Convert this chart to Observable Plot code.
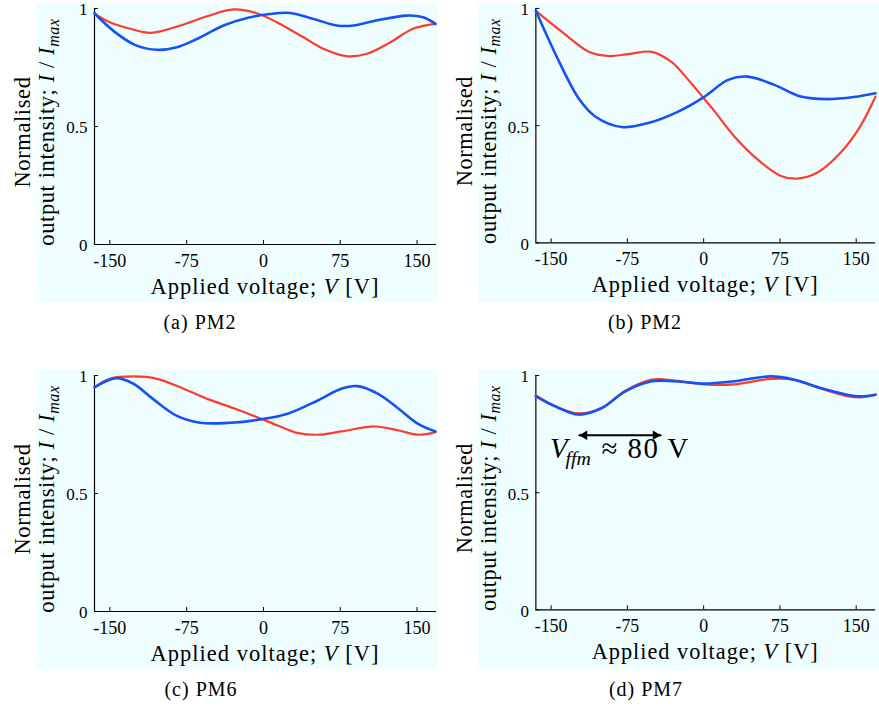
<!DOCTYPE html>
<html>
<head>
<meta charset="utf-8">
<script src="https://cdn.jsdelivr.net/npm/d3@7"></script>
<script src="https://cdn.jsdelivr.net/npm/@observablehq/plot@0.6"></script>
<style>
  body { margin: 0; background: #ffffff; }
  #fig { position: relative; width: 879px; height: 711px; overflow: hidden; font-family: "Liberation Serif", serif; }
  .bg { position: absolute; background: #effefe; }
  .panel { position: absolute; }
  .cap { position: absolute; font-size: 20px; letter-spacing: 1px; transform: translateX(-50%); white-space: nowrap; }
</style>
</head>
<body>
<div id="fig"></div>
<script>
// ---- axis ticks ----
const xTicks = [-150, -75, 0, 75, 150];
const yTicks = [0, 0.5, 1];
const yTickLabels = ["0", "0.5", "1"];
const xDomain = [-165, 169];

// ---- (a) PM2 ----
const aRedV  = [-165, -150, -130, -110, -81, -55, -29, -6.5, 13, 39, 58.5, 81, 101, 124, 146, 168];
const aRedI  = [0.977, 0.942, 0.914, 0.897, 0.928, 0.967, 0.996, 0.98, 0.942, 0.878, 0.829, 0.798, 0.808, 0.857, 0.914, 0.935];
const aBlueV = [-165, -145, -125, -104, -84.5, -65, -39, -16, 6.5, 26, 49, 71.6, 88, 107, 140, 156, 168];
const aBlueI = [0.98, 0.9, 0.845, 0.825, 0.836, 0.871, 0.928, 0.96, 0.977, 0.981, 0.956, 0.928, 0.928, 0.946, 0.97, 0.963, 0.935];

// ---- (b) PM2 ----
const bRedV  = [-165, -139, -113, -93.6, -74, -51, -31.7, -15, -2, 11, 30, 53, 76, 92, 112, 134.6, 154, 169];
const bRedI  = [0.99, 0.899, 0.815, 0.797, 0.805, 0.815, 0.772, 0.695, 0.628, 0.56, 0.455, 0.356, 0.285, 0.274, 0.3, 0.384, 0.497, 0.624];
const bBlueV = [-165, -146, -123, -106.6, -80.6, -54.5, -25, 1, 24, 43, 69.5, 95.5, 121.6, 147.7, 169];
const bBlueI = [0.99, 0.808, 0.617, 0.539, 0.494, 0.511, 0.56, 0.624, 0.695, 0.709, 0.674, 0.624, 0.613, 0.622, 0.638];

// ---- (c) PM6 ----
const cRedV  = [-165, -150, -127, -104, -78, -55, -29, -6, 14, 33, 53, 76, 109, 132, 151, 168];
const cRedI  = [0.95, 0.986, 0.996, 0.986, 0.944, 0.901, 0.861, 0.823, 0.788, 0.757, 0.749, 0.763, 0.784, 0.767, 0.749, 0.76];
const cBlueV = [-165, -144, -127, -108, -85, -62, -32, -3, 23.6, 53, 76, 92, 112, 132, 151, 168];
const cBlueI = [0.95, 0.989, 0.965, 0.901, 0.83, 0.8, 0.8, 0.814, 0.838, 0.894, 0.944, 0.955, 0.922, 0.859, 0.795, 0.763];

// ---- (d) PM7 ----
const dRedV  = [-165, -146, -123, -100, -77, -51, -28, 1, 30, 66, 89, 115, 141, 154, 169];
const dRedI  = [0.915, 0.87, 0.838, 0.862, 0.935, 0.982, 0.978, 0.962, 0.962, 0.985, 0.982, 0.944, 0.912, 0.906, 0.918];
const dBlueV = [-165, -146, -123, -100, -77, -51, -28, 1, 30, 66, 89, 115, 141, 154, 169];
const dBlueI = [0.911, 0.868, 0.833, 0.861, 0.932, 0.975, 0.975, 0.965, 0.975, 0.996, 0.982, 0.946, 0.918, 0.911, 0.918];

// annotation in (d)
const arrowV = [-123, -41.5];
const arrowI = 0.745;
const annotV = -150.7;
const annotI = 0.645;

const captions = ["(a) PM2", "(b) PM2", "(c) PM6", "(d) PM7"];

const RED = "#ff3b2b";
const BLUE = "#1652f2";
const W = 440, H = 305;
const mL = 94, mR = 4, mT = 8, mB = 61;
const plotW = W - mL - mR, plotH = H - mT - mB;

const zip = (v, i) => v.map((x, k) => ({V: x, I: i[k]}));

function makePanel(redV, redI, blueV, blueI, extra) {
  const marks = [
    Plot.axisX({ticks: xTicks, tickSize: 0, tickPadding: 10, tickFormat: d => String(d), label: null, fontSize: 18}),
    Plot.axisY({ticks: yTicks, tickSize: 0, tickPadding: 7, dy: 1.5, tickFormat: (d) => yTickLabels[yTicks.indexOf(d)], label: null, fontSize: 17}),
    Plot.tickX(xTicks, {x: d => d, insetTop: plotH - 4, stroke: "black"}),
    Plot.tickY(yTicks, {y: d => d, insetRight: plotW - 4, stroke: "black"}),
    Plot.ruleY([0], {stroke: "black", strokeWidth: 1.2}),
    Plot.ruleX([xDomain[0]], {stroke: "black", strokeWidth: 1.2}),
    Plot.line(zip(redV, redI), {x: "V", y: "I", stroke: RED, strokeWidth: 2.2, curve: "catmull-rom"}),
    Plot.line(zip(blueV, blueI), {x: "V", y: "I", stroke: BLUE, strokeWidth: 2.6, curve: "catmull-rom"})
  ];
  if (extra) marks.push(...extra);
  const plot = Plot.plot({
    width: W, height: H,
    marginLeft: mL, marginRight: mR, marginTop: mT, marginBottom: mB,
    style: {background: "transparent", fontFamily: "Liberation Serif, serif", fontSize: "18px", color: "black", overflow: "visible"},
    x: {domain: xDomain},
    y: {domain: [0, 1]},
    marks
  });
  const svg = d3.select(plot);
  // x label
  const xl = svg.append("text")
    .attr("x", mL + plotW / 2).attr("y", 294)
    .attr("text-anchor", "middle").attr("font-size", 22.5).attr("letter-spacing", 1).attr("fill", "black");
  xl.append("tspan").text("Applied voltage; ");
  xl.append("tspan").attr("font-style", "italic").text("V");
  xl.append("tspan").text(" [V]");
  // y label
  svg.append("text")
    .attr("transform", "translate(30,132) rotate(-90)")
    .attr("text-anchor", "middle").attr("font-size", 22.5).attr("letter-spacing", 0.6).attr("fill", "black")
    .text("Normalised");
  const yl = svg.append("text")
    .attr("transform", "translate(54,132) rotate(-90)")
    .attr("text-anchor", "middle").attr("font-size", 22.5).attr("letter-spacing", 0.6).attr("fill", "black");
  yl.append("tspan").text("output intensity; ");
  yl.append("tspan").attr("font-style", "italic").text("I");
  yl.append("tspan").text(" / ");
  yl.append("tspan").attr("font-style", "italic").text("I");
  yl.append("tspan").attr("font-style", "italic").attr("font-size", 16).attr("dy", "0.3em").text("max");
  return plot;
}

const fig = document.getElementById("fig");
const offsets = [[0, 0], [442, 0], [0, 367], [442, 367]];
const capPos = [[200, 311], [645, 311], [201, 678], [646, 678]];

const annotMarks = [
  Plot.link([{x1: arrowV[0], x2: arrowV[1], y: arrowI}], {x1: "x1", x2: "x2", y1: "y", y2: "y", stroke: "black", strokeWidth: 2}),
  Plot.dot([{x: arrowV[0], y: arrowI}], {x: "x", y: "y", symbol: "triangle2", r: 4.5, rotate: -90, fill: "black", stroke: "none", dx: 6}),
  Plot.dot([{x: arrowV[1], y: arrowI}], {x: "x", y: "y", symbol: "triangle2", r: 4.5, rotate: 90, fill: "black", stroke: "none", dx: -6})
];

const panels = [
  makePanel(aRedV, aRedI, aBlueV, aBlueI),
  makePanel(bRedV, bRedI, bBlueV, bBlueI),
  makePanel(cRedV, cRedI, cBlueV, cBlueI),
  makePanel(dRedV, dRedI, dBlueV, dBlueI, annotMarks)
];

// annotation text in (d) positioned through the plot's scales
{
  const p = panels[3];
  const sx = p.scale("x"), sy = p.scale("y");
  const t = d3.select(p).append("text")
    .attr("x", sx.apply(annotV)).attr("y", sy.apply(annotI))
    .attr("text-anchor", "start")
    .attr("font-size", 29).attr("fill", "black");
  t.append("tspan").attr("font-style", "italic").text("V");
  t.append("tspan").attr("font-style", "italic").attr("font-size", 20).attr("dy", "0.32em").attr("dx", -2).text("ffm");
  t.append("tspan").attr("dy", "-0.22em").attr("dx", 2).attr("letter-spacing", 1.5).text(" \u2248 80 V");
}

panels.forEach((p, k) => {
  const [ox, oy] = offsets[k];
  const bg = document.createElement("div");
  bg.className = "bg";
  bg.style.left = (ox + 36) + "px";
  bg.style.top = (oy + 3) + "px";
  bg.style.width = (Math.min(401, 879 - ox - 36)) + "px";
  bg.style.height = "299px";
  fig.appendChild(bg);
  const wrap = document.createElement("div");
  wrap.className = "panel";
  wrap.style.left = ox + "px";
  wrap.style.top = oy + "px";
  wrap.appendChild(p);
  fig.appendChild(wrap);
  const cap = document.createElement("div");
  cap.className = "cap";
  cap.style.left = capPos[k][0] + "px";
  cap.style.top = capPos[k][1] + "px";
  cap.textContent = captions[k];
  fig.appendChild(cap);
});
</script>
</body>
</html>
